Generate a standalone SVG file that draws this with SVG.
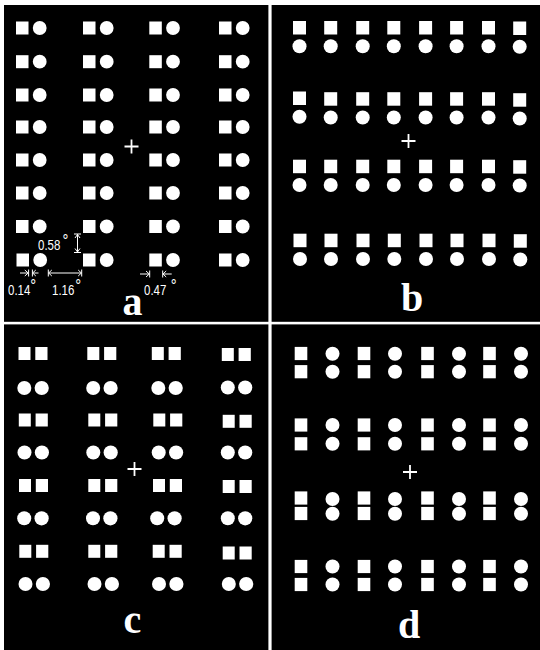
<svg xmlns="http://www.w3.org/2000/svg" xmlns:xlink="http://www.w3.org/1999/xlink" width="540" height="650" viewBox="0 0 540 650">
<style>
.bg{fill:#fff}
.panel{fill:#000}
.w{fill:#fff}
.cross{stroke:#fff;stroke-width:1.8;fill:none}
.dim{stroke:#fff;stroke-width:1;fill:none}
.num{font-family:"Liberation Sans",Arial,sans-serif;font-size:14px;fill:#fff}
.deg{font-size:18px}
.lab{font-family:"Liberation Serif","Times New Roman",serif;font-size:40px;font-weight:bold;fill:#fff;text-anchor:middle}
</style>
<defs>
<rect id="sq" class="w" x="-6.3" y="-6.6" width="12.6" height="13.2"/>
<circle id="ci" class="w" cx="0" cy="0" r="7"/>
<g id="pa"><rect class="w" x="0" y="-6.5" width="12.5" height="13"/><circle class="w" cx="23.7" cy="0" r="6.9"/></g>
<g id="pb"><rect class="w" x="-6.5" y="-6.8" width="13" height="13.5"/><circle class="w" cx="0" cy="18.5" r="7"/></g>
<g id="cs"><rect class="w" x="0" y="-6.5" width="12" height="13"/><rect class="w" x="16.8" y="-6.5" width="12.2" height="13"/></g>
<g id="cc"><circle class="w" cx="0" cy="0" r="7"/><circle class="w" cx="17.4" cy="0" r="7.1"/></g>
<path id="cr" class="cross" d="M-7 0H7M0 -7V7"/>
</defs>
<rect class="bg" x="0" y="0" width="540" height="650"/>
<rect class="panel" x="4" y="5" width="264.4" height="316.8"/>
<rect class="panel" x="271.6" y="5" width="268.4" height="316.8"/>
<rect class="panel" x="4" y="324.4" width="264.4" height="325.6"/>
<rect class="panel" x="271.6" y="324.4" width="268.4" height="325.6"/>

<g id="panel-a">
<use xlink:href="#pa" x="16" y="28"/><use xlink:href="#pa" x="83" y="28"/><use xlink:href="#pa" x="149.3" y="28"/><use xlink:href="#pa" x="219" y="28"/>
<use xlink:href="#pa" x="16" y="61.7"/><use xlink:href="#pa" x="83" y="61.7"/><use xlink:href="#pa" x="149.3" y="61.7"/><use xlink:href="#pa" x="219" y="61.7"/>
<use xlink:href="#pa" x="16" y="95"/><use xlink:href="#pa" x="83" y="95"/><use xlink:href="#pa" x="149.3" y="95"/><use xlink:href="#pa" x="219" y="95"/>
<use xlink:href="#pa" x="16" y="127"/><use xlink:href="#pa" x="83" y="127"/><use xlink:href="#pa" x="149.3" y="127"/><use xlink:href="#pa" x="219" y="127"/>
<use xlink:href="#pa" x="16" y="160"/><use xlink:href="#pa" x="83" y="160"/><use xlink:href="#pa" x="149.3" y="160"/><use xlink:href="#pa" x="219" y="160"/>
<use xlink:href="#pa" x="16" y="193"/><use xlink:href="#pa" x="83" y="193"/><use xlink:href="#pa" x="149.3" y="193"/><use xlink:href="#pa" x="219" y="193"/>
<use xlink:href="#pa" x="16" y="226.5"/><use xlink:href="#pa" x="83" y="226.5"/><use xlink:href="#pa" x="149.3" y="226.5"/><use xlink:href="#pa" x="219" y="226.5"/>
<use xlink:href="#pa" x="16.5" y="260"/><use xlink:href="#pa" x="83" y="260"/><use xlink:href="#pa" x="149.3" y="260"/><use xlink:href="#pa" x="219" y="260"/>
<use xlink:href="#cr" x="131.5" y="146.5"/>
<text class="lab" x="132.5" y="315">a</text>
</g>

<g id="dimensions">
<path class="dim" d="M74 234H81M74 252.5H81M77.5 234V252.5M75 238L77.5 234.5L80 238M75 248.5L77.5 252L80 248.5"/>
<path class="dim" d="M20 273H28.3M24.8 270L28.2 273L24.8 276M28.6 269.5V276.5M32.4 269.5V276.5M35.8 270L32.6 273L35.8 276M32.6 273H38.5"/>
<path class="dim" d="M48.3 269.5V276.5M51.8 270L48.6 273L51.8 276M48.6 273H81.4M78.2 270L81.4 273L78.2 276M81.7 269.5V276.5"/>
<path class="dim" d="M140 274H149.5M146 271L149.3 274L146 277M149.7 270.5V277.5M162.7 270.5V277.5M166.2 271L163 274L166.2 277M163 274H171.7"/>
<text class="num" transform="translate(38,250) scale(0.82,1)">0.58<tspan class="deg" dx="2.5" dy="-3">°</tspan></text>
<text class="num" transform="translate(8,295) scale(0.82,1)">0.14<tspan class="deg" dx="0" dy="-3">°</tspan></text>
<text class="num" transform="translate(52,295) scale(0.82,1)">1.16<tspan class="deg" dx="1" dy="-3">°</tspan></text>
<text class="num" transform="translate(144,294.5) scale(0.82,1)">0.47<tspan class="deg" dx="5.5" dy="-3">°</tspan></text>
</g>

<g id="panel-b">
<use xlink:href="#pb" x="299.5" y="27.8"/><use xlink:href="#pb" x="330.7" y="27.8"/><use xlink:href="#pb" x="362.7" y="27.8"/><use xlink:href="#pb" x="393.8" y="27.8"/><use xlink:href="#pb" x="425.6" y="27.8"/><use xlink:href="#pb" x="456.6" y="27.8"/><use xlink:href="#pb" x="488.5" y="27.8"/><use xlink:href="#pb" x="519.7" y="28.3"/>
<use xlink:href="#pb" x="299.5" y="98.3"/><use xlink:href="#pb" x="330.7" y="99"/><use xlink:href="#pb" x="362.7" y="99"/><use xlink:href="#pb" x="393.8" y="99"/><use xlink:href="#pb" x="425.6" y="99"/><use xlink:href="#pb" x="456.6" y="99"/><use xlink:href="#pb" x="488.5" y="99"/><use xlink:href="#pb" x="519.7" y="100"/>
<use xlink:href="#pb" x="299.5" y="166.5"/><use xlink:href="#pb" x="330.7" y="166.5"/><use xlink:href="#pb" x="362.7" y="166.5"/><use xlink:href="#pb" x="393.8" y="166.5"/><use xlink:href="#pb" x="425.6" y="166.5"/><use xlink:href="#pb" x="456.6" y="166.5"/><use xlink:href="#pb" x="488.5" y="166.5"/><use xlink:href="#pb" x="519.7" y="167"/>
<use xlink:href="#pb" x="300" y="240.5"/><use xlink:href="#pb" x="331" y="240.5"/><use xlink:href="#pb" x="363" y="240.5"/><use xlink:href="#pb" x="394.3" y="240.5"/><use xlink:href="#pb" x="426" y="240.5"/><use xlink:href="#pb" x="457" y="240.5"/><use xlink:href="#pb" x="489" y="240.5"/><use xlink:href="#pb" x="520.3" y="241"/>
<use xlink:href="#cr" x="408.5" y="141"/>
<text class="lab" x="412" y="311">b</text>
</g>

<g id="panel-c">
<use xlink:href="#cs" x="18.5" y="353.5"/><use xlink:href="#cs" x="87.3" y="353.5"/><use xlink:href="#cs" x="151.8" y="353.5"/><use xlink:href="#cs" x="221.8" y="354.5"/>
<use xlink:href="#cc" x="24.3" y="388"/><use xlink:href="#cc" x="93.2" y="388"/><use xlink:href="#cc" x="158.3" y="388"/><use xlink:href="#cc" x="227.8" y="387.5"/>
<use xlink:href="#cs" x="18.8" y="420"/><use xlink:href="#cs" x="88.3" y="420"/><use xlink:href="#cs" x="153.3" y="420"/><use xlink:href="#cs" x="222.7" y="421.3"/>
<use xlink:href="#cc" x="24.5" y="452.5"/><use xlink:href="#cc" x="93.3" y="452.5"/><use xlink:href="#cc" x="158.7" y="452.5"/><use xlink:href="#cc" x="227.8" y="452.5"/>
<use xlink:href="#cs" x="19" y="485.5"/><use xlink:href="#cs" x="88.3" y="485.5"/><use xlink:href="#cs" x="153" y="485.5"/><use xlink:href="#cs" x="222.7" y="486.5"/>
<use xlink:href="#cc" x="24.2" y="518.3"/><use xlink:href="#cc" x="93" y="518.3"/><use xlink:href="#cc" x="157.2" y="518.3"/><use xlink:href="#cc" x="227.8" y="518.3"/>
<use xlink:href="#cs" x="19.3" y="551.3"/><use xlink:href="#cs" x="88.3" y="551.3"/><use xlink:href="#cs" x="152.7" y="551.3"/><use xlink:href="#cs" x="222.7" y="553"/>
<use xlink:href="#cc" x="25.5" y="584"/><use xlink:href="#cc" x="94.5" y="584"/><use xlink:href="#cc" x="159" y="584"/><use xlink:href="#cc" x="228.8" y="584"/>
<use xlink:href="#cr" x="134.5" y="469"/>
<text class="lab" x="132.5" y="633">c</text>
</g>

<g id="panel-d">
<use xlink:href="#sq" x="301" y="353.5"/><use xlink:href="#ci" x="332.5" y="353.8"/><use xlink:href="#sq" x="364" y="353.5"/><use xlink:href="#ci" x="395" y="353.8"/><use xlink:href="#sq" x="427.5" y="353.5"/><use xlink:href="#ci" x="459" y="353.8"/><use xlink:href="#sq" x="489.5" y="353.5"/><use xlink:href="#ci" x="521" y="353.8"/>
<use xlink:href="#sq" x="301" y="371.7"/><use xlink:href="#ci" x="332.5" y="371.7"/><use xlink:href="#sq" x="364" y="371.7"/><use xlink:href="#ci" x="395" y="371.7"/><use xlink:href="#sq" x="427.5" y="371.7"/><use xlink:href="#ci" x="459" y="371.7"/><use xlink:href="#sq" x="489.5" y="371.7"/><use xlink:href="#ci" x="521" y="371.7"/>
<use xlink:href="#sq" x="301" y="425"/><use xlink:href="#ci" x="332.5" y="425"/><use xlink:href="#sq" x="364" y="425"/><use xlink:href="#ci" x="395" y="425"/><use xlink:href="#sq" x="427.5" y="425"/><use xlink:href="#ci" x="459" y="425"/><use xlink:href="#sq" x="489.5" y="425"/><use xlink:href="#ci" x="521" y="425"/>
<use xlink:href="#sq" x="301" y="443.8"/><use xlink:href="#ci" x="332.5" y="443.8"/><use xlink:href="#sq" x="364" y="443.8"/><use xlink:href="#ci" x="395" y="443.8"/><use xlink:href="#sq" x="427.5" y="443.8"/><use xlink:href="#ci" x="459" y="443.8"/><use xlink:href="#sq" x="489.5" y="443.8"/><use xlink:href="#ci" x="521" y="443.8"/>
<use xlink:href="#sq" x="301" y="498"/><use xlink:href="#ci" x="332.5" y="499"/><use xlink:href="#sq" x="364" y="498"/><use xlink:href="#ci" x="395" y="499"/><use xlink:href="#sq" x="427.5" y="498"/><use xlink:href="#ci" x="459" y="499"/><use xlink:href="#sq" x="489.5" y="498"/><use xlink:href="#ci" x="521" y="499"/>
<use xlink:href="#sq" x="301" y="513.5"/><use xlink:href="#ci" x="332.5" y="513.8"/><use xlink:href="#sq" x="364" y="513.5"/><use xlink:href="#ci" x="395" y="513.8"/><use xlink:href="#sq" x="427.5" y="513.5"/><use xlink:href="#ci" x="459" y="513.8"/><use xlink:href="#sq" x="489.5" y="513.5"/><use xlink:href="#ci" x="521" y="513.8"/>
<use xlink:href="#sq" x="301" y="566.5"/><use xlink:href="#ci" x="332.5" y="566.5"/><use xlink:href="#sq" x="364" y="566.5"/><use xlink:href="#ci" x="395" y="566.5"/><use xlink:href="#sq" x="427.5" y="566.5"/><use xlink:href="#ci" x="459" y="566.5"/><use xlink:href="#sq" x="489.5" y="566.5"/><use xlink:href="#ci" x="521" y="566.5"/>
<use xlink:href="#sq" x="301" y="584.5"/><use xlink:href="#ci" x="332.5" y="584.5"/><use xlink:href="#sq" x="364" y="584.5"/><use xlink:href="#ci" x="395" y="584.5"/><use xlink:href="#sq" x="427.5" y="584.5"/><use xlink:href="#ci" x="459" y="584.5"/><use xlink:href="#sq" x="489.5" y="584.5"/><use xlink:href="#ci" x="521" y="584.5"/>
<use xlink:href="#cr" x="410" y="472"/>
<text class="lab" x="409" y="638">d</text>
</g>
</svg>
